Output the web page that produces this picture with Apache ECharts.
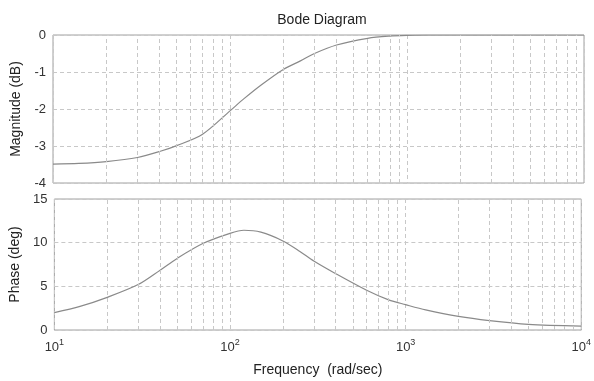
<!DOCTYPE html>
<html>
<head>
<meta charset="utf-8">
<script src="https://cdn.jsdelivr.net/npm/echarts@6/dist/echarts.min.js"></script>
<style>html,body{margin:0;padding:0;background:#fff}#c{width:594px;height:381px}</style>
</head>
<body>
<div id="c"></div>
<script>
var freq  = [10, 14, 20, 30, 40, 50, 70, 100, 120, 150, 200, 250, 300, 400, 600, 800, 1000, 1300, 2000, 3000, 5000, 10000];
var magDb = [-3.49, -3.47, -3.42, -3.31, -3.15, -2.99, -2.68, -2.05, -1.72, -1.35, -0.93, -0.70, -0.50, -0.27, -0.09, -0.03, -0.01, 0, 0, 0, 0, 0];
var phaseDeg = [1.98, 2.7, 3.74, 5.2, 6.85, 8.2, 9.9, 11.07, 11.42, 11.2, 10.2, 9.0, 7.9, 6.45, 4.55, 3.45, 2.9, 2.3, 1.55, 1.07, 0.65, 0.45];
var minorFreq = [20,30,40,50,60,70,80,90,200,300,400,500,600,700,800,900,2000,3000,4000,5000,6000,7000,8000,9000];
var magTicks = [0, -1, -2, -3, -4];
var phaseTicks = [0, 5, 10, 15];

var gridColor = '#c8c8c8';
var curveColor = '#8a8a8a';
var font = 'Liberation Sans, Arial, sans-serif';

function pairs(xs, ys){ return xs.map(function(x,i){ return [x, ys[i]]; }); }
function minorMark(){
  return {
    silent: true, symbol: 'none', animation: false,
    label: {show: false},
    lineStyle: {color: gridColor, type: [4,3], width: 1},
    data: minorFreq.map(function(f){ return {xAxis: f}; })
  };
}

var chart = echarts.init(document.getElementById('c'), null, {renderer: 'canvas'});
chart.setOption({
  animation: false,
  backgroundColor: '#fff',
  title: {
    text: 'Bode Diagram', left: 317, top: 8, textAlign: 'center',
    textStyle: {fontFamily: font, fontSize: 14, fontWeight: 'normal', color: '#222'}
  },
  grid: [
    {left: 53, right: 10, top: 35, height: 148, show: true, borderColor: '#a0a0a0', borderWidth: 1},
    {left: 53, right: 10, top: 199, height: 131, show: true, borderColor: '#a0a0a0', borderWidth: 1}
  ],
  xAxis: [
    {type: 'log', logBase: 10, min: 10, max: 10000, gridIndex: 0,
     axisLine: {show: false}, axisTick: {show: false}, axisLabel: {show: false},
     splitLine: {show: true, lineStyle: {color: gridColor, type: [4,3]}}},
    {type: 'log', logBase: 10, min: 10, max: 10000, gridIndex: 1,
     axisLine: {show: false}, axisTick: {show: false},
     name: 'Frequency  (rad/sec)', nameLocation: 'middle', nameGap: 33,
     nameTextStyle: {fontFamily: font, fontSize: 14, color: '#222'},
     axisLabel: {
       margin: 8, color: '#333',
       formatter: function(v){ var e = Math.round(Math.log(v)/Math.LN10); return '{b|10}{e|' + e + '}'; },
       rich: {
         b: {fontFamily: font, fontSize: 13, color: '#333'},
         e: {fontFamily: font, fontSize: 9, color: '#333', verticalAlign: 'bottom', padding: [0,0,9,0]}
       }
     },
     splitLine: {show: true, lineStyle: {color: gridColor, type: [4,3]}}}
  ],
  yAxis: [
    {type: 'value', gridIndex: 0, min: -4, max: 0, interval: 1,
     name: 'Magnitude (dB)', nameLocation: 'middle', nameGap: 28,
     nameTextStyle: {fontFamily: font, fontSize: 14, color: '#222'},
     axisLine: {show: false}, axisTick: {show: false},
     axisLabel: {margin: 7, fontFamily: font, fontSize: 13, color: '#333'},
     splitLine: {show: true, lineStyle: {color: gridColor, type: [4,3]}}},
    {type: 'value', gridIndex: 1, min: 0, max: 15, interval: 5,
     name: 'Phase (deg)', nameLocation: 'middle', nameGap: 29,
     nameTextStyle: {fontFamily: font, fontSize: 14, color: '#222'},
     axisLine: {show: false}, axisTick: {show: false},
     axisLabel: {margin: 7, fontFamily: font, fontSize: 13, color: '#333'},
     splitLine: {show: true, lineStyle: {color: gridColor, type: [4,3]}}}
  ],
  series: [
    {type: 'line', xAxisIndex: 0, yAxisIndex: 0, data: pairs(freq, magDb),
     showSymbol: false, smooth: 0.3, lineStyle: {color: curveColor, width: 1.2},
     markLine: minorMark(), z: 3},
    {type: 'line', xAxisIndex: 1, yAxisIndex: 1, data: pairs(freq, phaseDeg),
     showSymbol: false, smooth: 0.3, lineStyle: {color: curveColor, width: 1.2},
     markLine: minorMark(), z: 3}
  ]
});
</script>
</body>
</html>
